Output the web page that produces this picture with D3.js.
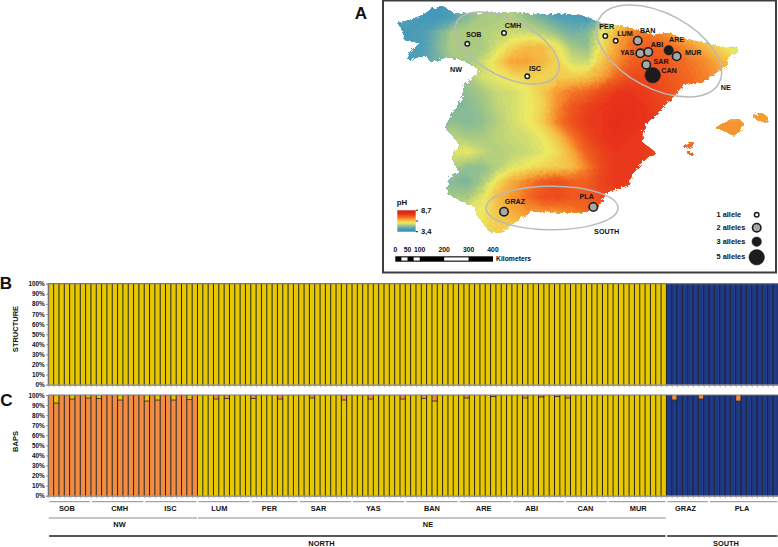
<!DOCTYPE html>
<html><head><meta charset="utf-8">
<script src="https://cdnjs.cloudflare.com/ajax/libs/d3/7.8.5/d3.min.js"></script>
<style>html,body{margin:0;padding:0;background:#fff}svg{display:block}
text{font-family:"Liberation Sans",Arial,sans-serif;font-weight:700;fill:#111}</style></head>
<body><svg id="c" width="778" height="547"></svg>
<script>
// ---------- bar data ----------
const populations = ["SOB","CMH","ISC","LUM","PER","SAR","YAS","BAN","ARE","ABI","CAN","MUR","GRAZ","PLA"];
const popSizes    = [8,10,10,10,9,10,10,10,10,10,8,11,8,13];
const popLabelBar = [3.5,13.4,22.9,32.1,41.5,50.7,61,72,81.7,90.7,100.8,110.7,119.6,130.2];
const regions     = ["NW","NE"];
const regionSizes = [28,88];
const zones       = ["NORTH","SOUTH"];
const zoneSizes   = [116,21];
const structureClusters = ["Y","B"];
const structureSizes    = [116,21];
const bapsClusters = ["O","Y","B"];
const bapsSizes    = [28,88,21];
const bapsMinorBar = [1,4,7,9,13,18,20,23,26,31,33,38,43,49,55,60,66,70,72,78,83,89,92,95,97,117,122,129];
const bapsMinorPct = [8,4,3,3.5,5,6,5,5,4.5,4,3.5,3.5,4,3,5,4,4,3.5,6,3,1.5,3,2,1.5,3,5,4,6];
const bapsMinorKey = ["Y","Y","Y","Y","Y","Y","Y","Y","Y","O","O","O","O","O","O","O","O","O","O","O","O","O","O","O","O","O","O","O"];
const pctTicks = [0,10,20,30,40,50,60,70,80,90,100];

// ---------- map data (map units) ----------
const mapOutline = [[398,23],[410,20],[423,15],[432,9],[442,6],[453,13],[466,14],[480,13],[497,12],[513,12],[530,14],[547,15],[565,14],[580,15],[590,19],[600,23],[613,25],[625,27],[637,30],[653,35],[670,33],[680,38],[690,40],[707,43],[720,47],[737,48],[738,52],[728,57],[727,65],[717,72],[703,82],[683,85],[673,97],[660,110],[645,125],[642,135],[643,143],[655,152],[642,162],[632,175],[628,185],[607,192],[598,207],[583,212],[570,213],[550,212],[530,212],[520,218],[500,233],[490,232],[477,215],[475,207],[460,200],[447,193],[450,177],[460,173],[452,158],[460,145],[452,135],[445,127],[455,110],[463,97],[463,87],[480,70],[463,60],[447,57],[430,62],[427,55],[408,60],[410,52],[420,43],[405,40],[402,30]];
const mallorca = [[715,128],[722,124],[732,119],[738,118],[744,124],[741,130],[733,136],[727,132],[721,129]];
const menorca = [[753,115],[760,113],[768,117],[767,122],[759,121],[754,118]];
const ibiza = [[683,146],[688,143],[694,142],[692,146],[686,149]];
const formentera = [[688,152],[692,152],[693,155],[689,155]];
const phCols = [392,407,422,437,452,467,482,497,512,527,542,557,572,587,602,617,632,647,662,677,692,707,722,737,752,767];
const phRows = [2,17,32,47,62,77,92,107,122,137,152,167,182,197,212,227,242];
const phGrid = [
 [4.2,4.2,4.0,3.9,4.1,4.7,5.0,5.0,5.1,4.8,4.5,4.2,4.1,4.0,4.5,5.2,6.0,6.2,6.1,5.6,5.4,5.4,5.4,5.4,5.4,5.4],
 [4.2,4.2,4.0,3.9,4.1,4.7,5.0,5.0,5.1,4.8,4.5,4.2,4.1,4.0,4.6,5.4,6.1,6.4,6.2,5.6,5.4,5.4,5.4,5.4,5.4,5.4],
 [4.0,4.0,4.1,4.5,5.0,5.1,5.1,5.2,5.3,5.3,5.1,4.8,4.5,4.6,5.6,6.3,6.8,6.9,6.7,6.3,6.0,5.8,5.6,5.5,5.5,5.5],
 [4.1,4.0,4.1,4.6,5.1,5.0,5.0,5.4,5.9,6.2,6.2,5.7,5.0,4.8,5.8,6.5,7.0,7.2,7.1,6.9,6.6,6.2,5.8,5.4,5.4,5.4],
 [4.1,4.1,4.2,4.5,4.9,5.0,5.3,5.9,6.5,6.5,6.3,5.9,5.4,5.3,6.1,6.7,7.2,7.3,7.3,7.1,6.9,6.7,6.3,6.0,6.0,6.0],
 [4.4,4.4,4.4,4.5,4.7,5.0,5.4,5.6,5.8,5.9,5.9,6.0,6.0,6.1,6.5,7.1,7.5,7.5,7.4,7.2,7.0,6.8,6.5,6.4,6.4,6.4],
 [4.6,4.6,4.6,4.6,4.6,4.8,5.0,5.3,5.4,5.6,6.0,6.6,6.9,7.1,7.5,7.8,7.8,7.7,7.5,7.3,7.1,6.9,6.6,6.5,6.5,6.5],
 [4.6,4.6,4.6,4.6,4.6,4.7,4.9,5.2,5.4,5.6,5.9,6.7,7.3,7.6,7.8,7.9,7.9,7.8,7.6,7.3,7.0,6.7,6.5,6.5,6.5,6.5],
 [4.7,4.7,4.7,4.7,4.8,4.7,4.8,5.1,5.4,5.6,6.0,6.8,7.4,7.7,7.8,8.0,7.9,7.8,7.6,7.3,7.0,6.8,6.6,6.6,6.6,6.6],
 [5.0,5.0,5.0,5.0,5.2,5.0,5.0,5.2,5.3,5.4,5.6,6.1,6.9,7.5,7.8,7.9,7.8,7.7,7.4,7.2,7.0,6.8,6.6,6.6,6.6,6.6],
 [5.5,5.5,5.5,5.5,5.5,5.6,5.3,5.1,5.2,5.3,5.5,5.8,6.4,7.2,7.6,7.8,7.8,7.7,7.5,7.2,7.0,6.8,6.6,6.6,6.6,6.6],
 [5.1,5.1,5.1,5.1,5.1,4.8,4.8,5.1,5.5,5.7,5.9,6.0,6.2,6.8,7.5,7.8,7.8,7.6,7.4,7.2,7.0,6.8,6.6,6.6,6.6,6.6],
 [4.8,4.8,4.8,4.8,4.7,4.6,5.0,5.8,6.4,6.8,7.2,7.4,7.2,7.2,7.6,7.8,7.7,7.5,7.3,7.0,6.8,6.6,6.6,6.6,6.6,6.6],
 [5.0,5.0,5.0,5.0,5.0,5.0,5.5,6.2,6.6,7.0,7.4,7.5,7.3,7.3,7.5,7.6,7.5,7.3,7.0,6.8,6.6,6.6,6.6,6.6,6.6,6.6],
 [5.6,5.6,5.6,5.6,5.6,5.6,5.6,6.1,6.4,6.6,6.6,6.6,6.8,7.0,7.2,7.2,7.0,7.0,6.8,6.6,6.6,6.6,6.6,6.6,6.6,6.6],
 [5.8,5.8,5.8,5.8,5.8,5.8,5.8,6.0,6.0,6.2,6.4,6.6,6.8,7.0,7.0,7.0,7.0,6.8,6.6,6.6,6.6,6.6,6.6,6.6,6.6,6.6],
 [5.8,5.8,5.8,5.8,5.8,5.8,5.8,6.0,6.0,6.2,6.4,6.6,6.8,7.0,7.0,7.0,7.0,6.8,6.6,6.6,6.6,6.6,6.6,6.6,6.6,6.6]
];
const phStops  = [3.4,4.2,4.9,5.6,6.4,7.0,7.8,8.7];
const phColors = ["#2b86c5","#56a3b4","#a0c688","#eeea62","#f7a93a","#f26a22","#e8321a","#d81e10"];
const sites = ["SOB","CMH","ISC","PER","LUM","BAN","YAS","ABI","ARE","MUR","SAR","CAN","GRAZ","PLA"];
const siteX = [467.3,504,527.3,605.3,615.7,637.7,640.3,648.3,668.7,676.7,646.3,652.7,504,593.3];
const siteY = [43.7,33,76.3,36,40.7,40.7,53.3,52,50.3,56.3,64.7,75.3,211.7,207];
const siteAlleles = [1,1,1,1,1,2,2,2,3,2,2,5,2,2];
const siteLabelX = [473.7,513,535,606.7,625,647.7,627.3,657,676.7,693.3,661,669,515,586.7];
const siteLabelY = [35,25.7,69,27,34.3,31,53.3,45,40.3,53,62,71.3,201.7,197];
const ellipseNames = ["NW","NE","SOUTH"];
const ellipseCx = [507,659,552];
const ellipseCy = [48,51,208];
const ellipseA  = [56.6,68,66];
const ellipseB  = [28.3,37.5,21.7];
const ellipseRot= [27,28,0];
const ellipseLabelX = [456,725.7,606.7];
const ellipseLabelY = [70.3,87.7,232];
const alleleCounts = [1,2,3,5];
const alleleLabels = ["1 allele","2 alleles","3 alleles","5 alleles"];
const alleleLegendY = [214.7,227.7,241.7,257.3];
const kmStops = [0,25,50,75,100,200,300,400];
const kmLabels = [0,50,100,200,300,400];
const phLegendTicks = [3.4,8.7];
const phLegendText = ["3,4","8,7"];

// ---------- drawing ----------
const svg = d3.select("#c");
const clusterColor = d3.scaleOrdinal(["Y","O","B"],["#e6c700","#f28c42","#1f3a8a"]);
const nBars = d3.sum(popSizes);
const x = d3.scaleLinear().domain([0,nBars]).range([48.3,778.3]);
const yB = d3.scaleLinear().domain([0,100]).range([384.7,283.7]);
const yC = d3.scaleLinear().domain([0,100]).range([495.7,395]);

function expand(keys,sizes){return keys.flatMap((k,i)=>d3.range(sizes[i]).map(()=>k));}
const structureKeys = expand(structureClusters,structureSizes);
const bapsKeys = expand(bapsClusters,bapsSizes);

function barPanel(y,keys,minor){
  const g = svg.append("g");
  const rows = keys.map((k,i)=>{
    const m = minor.get(i);
    return {i,k,mk:m?m.key:null,mp:m?m.pct:0};
  });
  g.selectAll("rect.main").data(rows).join("rect").attr("class","main")
    .attr("x",d=>x(d.i)).attr("width",x(1)-x(0))
    .attr("y",d=>y(100-d.mp)).attr("height",d=>y(0)-y(100-d.mp))
    .attr("fill",d=>clusterColor(d.k));
  g.selectAll("rect.minor").data(rows.filter(d=>d.mk)).join("rect").attr("class","minor")
    .attr("x",d=>x(d.i)).attr("width",x(1)-x(0))
    .attr("y",y(100)).attr("height",d=>y(100-d.mp)-y(100))
    .attr("fill",d=>clusterColor(d.mk));
  g.selectAll("line.sep").data(d3.range(nBars+1)).join("line").attr("class","sep")
    .attr("x1",d=>x(d)).attr("x2",d=>x(d)).attr("y1",y(100)).attr("y2",y(0))
    .attr("stroke","#1a1a1a").attr("stroke-width",0.95);
  g.selectAll("line.cap").data(rows.filter(d=>d.mk)).join("line").attr("class","cap")
    .attr("x1",d=>x(d.i)).attr("x2",d=>x(d.i+1))
    .attr("y1",d=>y(100-d.mp)).attr("y2",d=>y(100-d.mp))
    .attr("stroke","#222").attr("stroke-width",0.8);
  const ax = svg.append("g").attr("transform","translate(48.3,0)")
    .call(d3.axisLeft(y).tickValues(pctTicks).tickFormat(d=>d+"%").tickSize(2).tickPadding(1.5));
  ax.select(".domain").attr("stroke","#888");
  ax.selectAll("line").attr("stroke","#888");
  ax.selectAll("text").style("font-size","6.4px").style("font-weight","700").attr("fill","#222");
  const bx = svg.append("g").attr("transform",`translate(0,${y(0)})`)
    .call(d3.axisBottom(x).tickValues(d3.range(nBars+1)).tickFormat("").tickSize(2.5).tickSizeOuter(0));
  bx.select(".domain").attr("stroke","#7a7a7a").attr("stroke-width",1.2);
  bx.selectAll("line").attr("stroke","#9a9a9a").attr("stroke-width",.8);
  svg.append("line").attr("x1",x(0)).attr("x2",x(nBars)).attr("y1",y(100)).attr("y2",y(100))
    .attr("stroke","#7a7a7a").attr("stroke-width",1.2);
}
barPanel(yB,structureKeys,new Map());
barPanel(yC,bapsKeys,new Map(bapsMinorBar.map((b,i)=>[b,{pct:bapsMinorPct[i],key:bapsMinorKey[i]}])));

function rotLabel(t,cx,cy){
  svg.append("text").attr("transform",`translate(${cx},${cy}) rotate(-90)`)
    .attr("text-anchor","middle").attr("dominant-baseline","middle").style("font-size","7.5px").text(t);
}
rotLabel("STRUCTURE",16,329);
rotLabel("BAPS",16,441.5);

function brackets(names,sizes,lineY,stroke,sw,gap){
  let s=0;
  names.forEach((n,i)=>{
    const a=s,b=s+sizes[i]; s=b;
    svg.append("line").attr("x1",x(a)+gap).attr("x2",x(b)-gap).attr("y1",lineY).attr("y2",lineY)
      .attr("stroke",stroke).attr("stroke-width",sw);
  });
}
brackets(populations,popSizes,501.7,"#8c8c8c",1,1);
populations.forEach((p,i)=>svg.append("text").attr("x",x(popLabelBar[i])).attr("y",510.5)
  .attr("text-anchor","middle").style("font-size","7.4px").attr("fill","#222").text(p));
brackets(regions,regionSizes,518,"#8c8c8c",1.2,.5);
const regionLabelX=[119.5,428];
regions.forEach((r,i)=>svg.append("text").attr("x",regionLabelX[i]).attr("y",527)
  .attr("text-anchor","middle").style("font-size","7.4px").text(r));
brackets(zones,zoneSizes,536,"#222",1.4,.8);
const zoneLabelX=[321.5,726];
zones.forEach((z,i)=>svg.append("text").attr("x",zoneLabelX[i]).attr("y",546)
  .attr("text-anchor","middle").style("font-size","7.4px").text(z));

[["A",361,19],["B",6,289],["C",6.5,405.5]].forEach(([t,px,py])=>
  svg.append("text").attr("x",px).attr("y",py).attr("text-anchor","middle")
    .style("font-size","17px").attr("fill","#000").text(t));

// ---------- panel A ----------
svg.append("rect").attr("x",383).attr("y",0.5).attr("width",393).attr("height",272)
  .attr("fill","#fff").attr("stroke","#3c3c3c").attr("stroke-width",2);

const defs = svg.append("defs");
const f = defs.append("filter").attr("id","rough").attr("x","-5%").attr("y","-5%").attr("width","110%").attr("height","110%")
  .attr("color-interpolation-filters","sRGB");
f.append("feTurbulence").attr("type","fractalNoise").attr("baseFrequency",0.3).attr("numOctaves",2).attr("seed",4).attr("result","n");
f.append("feDisplacementMap").attr("in","SourceGraphic").attr("in2","n").attr("scale",5);

const mapX = d3.scaleLinear().domain([383,776]).range([383,776]);
const mapY = d3.scaleLinear().domain([0,272]).range([0,272]);
const line = d3.line().x(d=>mapX(d[0])).y(d=>mapY(d[1])).curve(d3.curveLinearClosed);
const cp = defs.append("clipPath").attr("id","land");
[mapOutline,mallorca,menorca,ibiza,formentera].forEach(o=>cp.append("path").attr("d",line(o)));

const ph = d3.scaleLinear().domain(phStops).range(phColors).clamp(true);
const nx=phCols.length, ny=phRows.length;
const thresholds = d3.range(3.4,8.7,0.08);
const contours = d3.contours().size([nx,ny]).thresholds(thresholds)(phGrid.flat());
const gx = d3.scaleLinear().domain([0.5,nx-0.5]).range([phCols[0],phCols[nx-1]]);
const gy = d3.scaleLinear().domain([0.5,ny-0.5]).range([phRows[0],phRows[ny-1]]);
const geo = d3.geoPath(d3.geoTransform({point(a,b){this.stream.point(mapX(gx(a)),mapY(gy(b)));}}));
const mapG = svg.append("g").attr("filter","url(#rough)").append("g").attr("clip-path","url(#land)");
mapG.selectAll("path").data(contours).join("path")
  .attr("d",geo).attr("fill",d=>ph(d.value)).attr("stroke",d=>ph(d.value)).attr("stroke-width",.4);

const eG = svg.append("g");
ellipseNames.forEach((n,i)=>{
  eG.append("ellipse").attr("cx",mapX(ellipseCx[i])).attr("cy",mapY(ellipseCy[i]))
    .attr("rx",ellipseA[i]).attr("ry",ellipseB[i])
    .attr("transform",`rotate(${ellipseRot[i]},${mapX(ellipseCx[i])},${mapY(ellipseCy[i])})`)
    .attr("fill","none").attr("stroke","#b9b9b9").attr("stroke-width",1.5);
  svg.append("text").attr("x",mapX(ellipseLabelX[i])).attr("y",mapY(ellipseLabelY[i]))
    .attr("text-anchor","middle").attr("dominant-baseline","middle")
    .style("font-size","7.2px").text(n);
});
const rA = d3.scaleOrdinal(alleleCounts,[3,5,5,8]);
const fA = d3.scaleOrdinal(alleleCounts,["#fff","#a8a8a8","#1c1c1c","#1c1c1c"]);
const swA = d3.scaleOrdinal(alleleCounts,[1.5,1.6,.5,.5]);
svg.append("g").selectAll("circle").data(sites.map((s,i)=>({s,i}))).join("circle")
  .attr("cx",d=>mapX(siteX[d.i])).attr("cy",d=>mapY(siteY[d.i]))
  .attr("r",d=>rA(siteAlleles[d.i])-swA(siteAlleles[d.i])/2)
  .attr("fill",d=>fA(siteAlleles[d.i])).attr("stroke","#1c1c1c").attr("stroke-width",d=>swA(siteAlleles[d.i]));
svg.append("g").selectAll("text").data(sites.map((s,i)=>({s,i}))).join("text")
  .attr("x",d=>mapX(siteLabelX[d.i])).attr("y",d=>mapY(siteLabelY[d.i]))
  .attr("text-anchor","middle").attr("dominant-baseline","middle")
  .style("font-size","7.2px").attr("fill","#000").text(d=>d.s);

alleleCounts.forEach((a,i)=>{
  svg.append("circle").attr("cx",756.7).attr("cy",alleleLegendY[i])
    .attr("r",rA(a)-swA(a)/2).attr("fill",fA(a)).attr("stroke","#1c1c1c").attr("stroke-width",swA(a));
  svg.append("text").attr("x",716.5).attr("y",alleleLegendY[i]).attr("dominant-baseline","middle")
    .style("font-size","7.4px").text(alleleLabels[i]);
});

const lg = defs.append("linearGradient").attr("id","phRamp").attr("x1",0).attr("x2",0).attr("y1",1).attr("y2",0);
const phNorm = d3.scaleLinear().domain([3.4,8.7]).range([0,1]);
phStops.forEach((s,i)=>lg.append("stop").attr("offset",phNorm(s)).attr("stop-color",phColors[i]));
const phLeg = d3.scaleLinear().domain([3.4,8.7]).range([231.7,210.3]);
svg.append("rect").attr("x",397.3).attr("y",phLeg(8.7)).attr("width",18.4).attr("height",phLeg(3.4)-phLeg(8.7)).attr("fill","url(#phRamp)");
svg.append("text").attr("x",402).attr("y",203).attr("text-anchor","middle").attr("dominant-baseline","middle").style("font-size","7.8px").text("pH");
phLegendTicks.forEach((t,i)=>{
  svg.append("line").attr("x1",415.7).attr("x2",418).attr("y1",phLeg(t)).attr("y2",phLeg(t)).attr("stroke","#222");
  svg.append("text").attr("x",421).attr("y",phLeg(t)+.5).attr("dominant-baseline","middle").style("font-size","7.6px").text(phLegendText[i]);
});
svg.append("line").attr("x1",415.7).attr("x2",418).attr("y1",phLeg(6.05)).attr("y2",phLeg(6.05)).attr("stroke","#222");

const km = d3.scaleLinear().domain([0,400]).range([395.3,493]);
svg.append("rect").attr("x",km(0)).attr("y",256.3).attr("width",km(400)-km(0)).attr("height",5.4).attr("fill","#000");
d3.pairs(kmStops).forEach(([a,b],i)=>{
  if(i%2==1) svg.append("rect").attr("x",km(a)).attr("y",257.4).attr("width",km(b)-km(a)).attr("height",3.2).attr("fill","#fff");
});
kmLabels.forEach(k=>svg.append("text").attr("x",km(k)).attr("y",250.5).attr("text-anchor","middle")
  .attr("dominant-baseline","middle").style("font-size","6.8px").text(k));
svg.append("text").attr("x",496).attr("y",259).attr("dominant-baseline","middle").style("font-size","6.8px").text("Kilometers");
</script></body></html>
